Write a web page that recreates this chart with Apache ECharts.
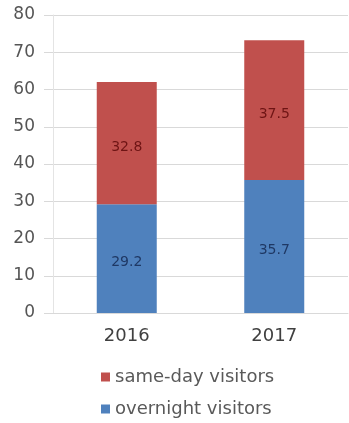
<!DOCTYPE html>
<html>
<head>
<meta charset="utf-8">
<script src="https://cdn.jsdelivr.net/npm/echarts@6/dist/echarts.min.js"></script>
<style>
  html, body { margin: 0; padding: 0; background: #fff; }
  #chart { width: 349px; height: 423px; }
</style>
</head>
<body>
<div id="chart"></div>
<script>
// Visitors by year (millions), stacked: overnight at the bottom, same-day on top
const years = ['2016', '2017'];
const overnightVisitors = [29.2, 35.7];
const sameDayVisitors = [32.8, 37.5];
const yTicks = { min: 0, max: 80, interval: 10 };

const legendText = { fontFamily: 'DejaVu Sans', fontSize: 18, color: '#595959' };
function legendRow(name, top) {
  return {
    orient: 'vertical', left: 96, top: top,
    itemWidth: 9, itemHeight: 9, icon: 'rect',
    data: [name], textStyle: legendText
  };
}

const chart = echarts.init(document.getElementById('chart'), null, { renderer: 'canvas' });

chart.setOption({
  animation: false,
  backgroundColor: '#ffffff',
  textStyle: { fontFamily: 'DejaVu Sans' },
  grid: { left: 53, right: 1, top: 15, bottom: 110 },
  legend: [
    legendRow('same-day visitors', 363),
    legendRow('overnight visitors', 395)
  ],
  xAxis: {
    type: 'category',
    data: years,
    axisLine: { show: true, lineStyle: { color: '#d9d9d9' } },
    axisTick: { show: false },
    axisLabel: { margin: 14, fontSize: 18, color: '#404040', fontFamily: 'DejaVu Sans' }
  },
  yAxis: {
    type: 'value',
    min: yTicks.min,
    max: yTicks.max,
    interval: yTicks.interval,
    axisLine: { show: true, lineStyle: { color: '#e4e4e4' } },
    axisTick: { show: true, length: 9, lineStyle: { color: '#d9d9d9' } },
    splitLine: { lineStyle: { color: '#d9d9d9', width: 1 } },
    axisLabel: { margin: 18, fontSize: 17, color: '#555555', fontFamily: 'DejaVu Sans' }
  },
  series: [
    {
      name: 'overnight visitors',
      type: 'bar',
      stack: 'visitors',
      barWidth: 60,
      data: overnightVisitors,
      itemStyle: { color: '#4f81bd' },
      label: {
        show: true, position: 'inside', offset: [0, 4],
        fontSize: 14, color: '#1f3864', fontFamily: 'DejaVu Sans'
      }
    },
    {
      name: 'same-day visitors',
      type: 'bar',
      stack: 'visitors',
      barWidth: 60,
      data: sameDayVisitors,
      itemStyle: { color: '#c0504d' },
      label: {
        show: true, position: 'inside', offset: [0, 4],
        fontSize: 14, color: '#6e1414', fontFamily: 'DejaVu Sans'
      }
    }
  ]
});
</script>
</body>
</html>
